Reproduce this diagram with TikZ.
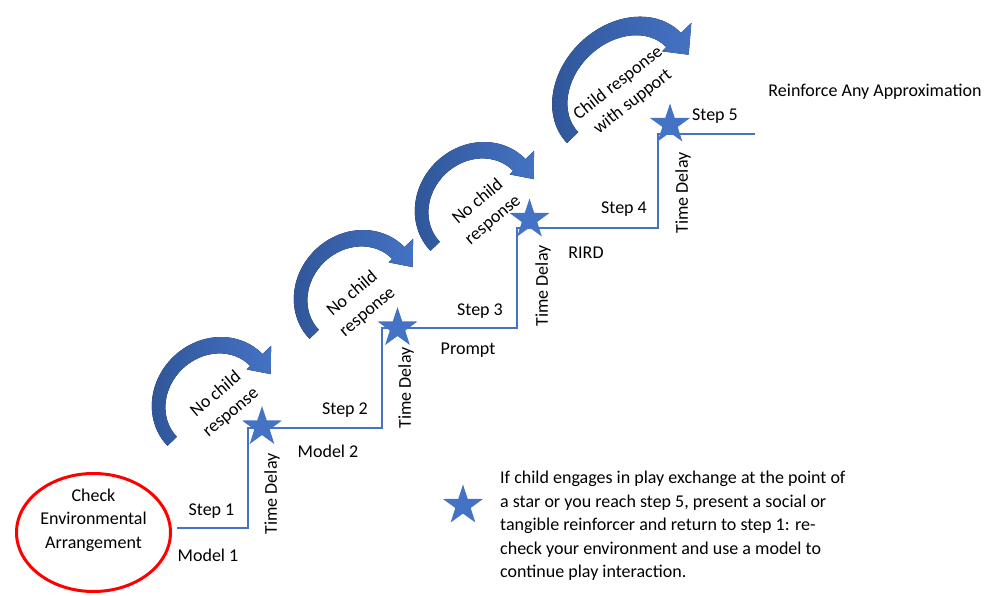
\documentclass[tikz,border=0pt]{standalone}
\usepackage{fontspec}
\setmainfont{Carlito}
\usetikzlibrary{shapes.geometric}

\definecolor{lineblue}{HTML}{4472C4}
\definecolor{arcdark}{HTML}{2F5597}
\definecolor{arclight}{HTML}{4472C4}

\begin{document}
\begin{tikzpicture}[x=1pt, y=1pt,
    % Define styles
    lbl/.style={font=\fontsize{18}{23.5}\selectfont, inner sep=0pt},
    delay/.style={lbl, rotate=90},
    bubble/.style={lbl, align=center, rotate=40},
    stepstar/.style={star, star points=5, star point ratio=2.6, fill=lineblue, minimum size=42, inner sep=0pt},
    envring/.style={ellipse, draw=red, line width=3, minimum width=154, minimum height=118},
    stepline/.style={draw=lineblue, line width=1.2},
    bendarrow/.pic={
        \fill[left color=arcdark, right color=arclight]
            (-66,0) arc[start angle=180, end angle=0, x radius=66, y radius=60]
            -- (78,0) -- (58,-20) -- (44,0) -- (49,0)
            arc[start angle=0, end angle=180, x radius=51, y radius=45] -- cycle;
    }
]
\useasboundingbox (0,0) rectangle (998,596);

% Start
\node[envring] (env) at (93.5,63.5) {};
\node[lbl, align=center] (envtext) at (93.5,76) {Check\\Environmental\\Arrangement};

% Corners of the steps
\coordinate (p0) at (177,68);
\coordinate (k1) at (248,168);
\coordinate (k2) at (382,268);
\coordinate (k3) at (517,368);
\coordinate (k4) at (658,462);
\coordinate (pend) at (755,462);

\draw[stepline] (p0) -| (k1) -| (k2) -| (k3) -| (k4) -- (pend);

% Stars
\node[stepstar] (star1) at (262,169) {};
\node[stepstar] (star2) at (397.5,268) {};
\node[stepstar] (star3) at (529.5,376.5) {};
\node[stepstar] (star4) at (670,471.5) {};

% Curved arrows
\pic[rotate=44] at (215,196) {bendarrow};
\pic[rotate=44] at (357,303) {bendarrow};
\pic[rotate=44] at (478,391) {bendarrow};
\pic[rotate=44, xscale=1.2, yscale=1.05] at (624,508) {bendarrow};

% Arrow texts
\node[bubble] (resp1) at (223.5,192.5) {No child\\response};
\node[bubble] (resp2) at (360,293) {No child\\response};
\node[bubble] (resp3) at (485.5,385) {No child\\response};
\node[bubble, rotate=-2] (resp4) at (625.5,503.5) {Child response\\with support};

% Step labels
\node[lbl] (step1) at (211.5,85) {Step 1};
\node[lbl] (model1) at (208,41) {Model 1};
\node[delay] (delay1) at (272,102) {Time Delay};

\node[lbl] (step2) at (345,186) {Step 2};
\node[lbl] (model2) at (328,145) {Model 2};
\node[delay] (delay2) at (406,208) {Time Delay};

\node[lbl] (step3) at (480,285) {Step 3};
\node[lbl] (prompt) at (468,246) {Prompt};
\node[delay] (delay3) at (543,310) {Time Delay};

\node[lbl] (step4) at (624,387) {Step 4};
\node[lbl] (rird) at (586,343) {RIRD};
\node[delay] (delay4) at (683,403) {Time Delay};

\node[lbl] (step5) at (715,480) {Step 5};
\node[lbl] (reinforce) at (875,504) {Reinforce Any Approximation};

% Legend
\node[stepstar] (legstar) at (463,90.5) {};
\node[lbl, align=left, anchor=west] (legtext) at (500,70) {If child engages in play exchange at the point of\\a star or you reach step 5, present a social or\\tangible reinforcer and return to step 1: re-\\check your environment and use a model to\\continue play interaction.};

\end{tikzpicture}
\end{document}
